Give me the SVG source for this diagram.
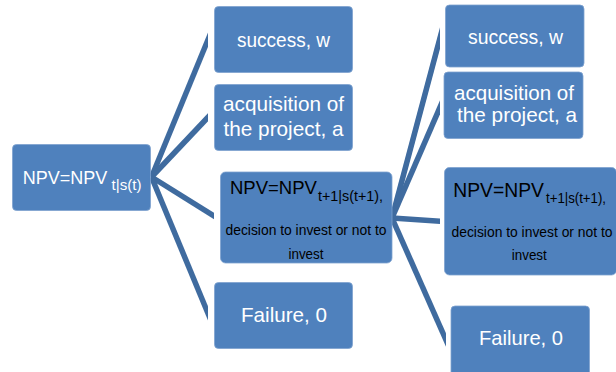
<svg xmlns="http://www.w3.org/2000/svg" width="616" height="372" viewBox="0 0 616 372">
<style>
.box{fill:#4f81bd;stroke:#7fa2cf;stroke-width:0.8}
.t{font-family:"Liberation Sans",Arial,sans-serif;font-size:21px;fill:#ffffff;text-anchor:middle}
.k{font-family:"Liberation Sans",Arial,sans-serif;fill:#000000}
.c{stroke:#3f6b9f;stroke-width:5.5;stroke-linecap:butt;fill:none}
</style>
<defs>
<clipPath id="cl"><path d="M0,0 H208 V200 H214 V240 H208 V372 H0 Z"/></clipPath>
<clipPath id="cr"><path d="M300,0 H440 V300 H446 V372 H300 Z"/></clipPath>
</defs>
<rect width="616" height="372" fill="#ffffff"/>
<g id="connectors">
<g clip-path="url(#cl)">
<line class="c" x1="151.5" y1="177" x2="212" y2="30"/>
<line class="c" x1="151.5" y1="177" x2="212" y2="113"/>
<line class="c" x1="151.5" y1="177" x2="218" y2="218.5"/>
<line class="c" x1="151.5" y1="177" x2="212" y2="323"/>
</g>
<g clip-path="url(#cr)">
<line class="c" x1="392" y1="218" x2="444" y2="23"/>
<line class="c" x1="392" y1="218" x2="444" y2="98"/>
<line class="c" x1="392" y1="218" x2="444" y2="221.5"/>
<line class="c" x1="392" y1="218" x2="450" y2="349"/>
</g>
</g>
<g id="root">
<rect class="box" x="12.5" y="144.5" width="138" height="66" rx="4"/>
<text class="t" x="22.7" y="183.5" style="text-anchor:start;font-size:18px">NPV=NPV</text>
<text class="t" x="111.5" y="189.5" style="text-anchor:start;font-size:14px" textLength="30" lengthAdjust="spacingAndGlyphs">t|s(t)</text>
</g>
<g id="success1">
<rect class="box" x="214.5" y="6.5" width="138" height="66" rx="4"/>
<text class="t" x="283.5" y="46.5" textLength="93" lengthAdjust="spacingAndGlyphs">success, w</text>
</g>
<g id="acquisition1">
<rect class="box" x="214.5" y="84.5" width="138" height="66" rx="4"/>
<text class="t" x="283.5" y="111" textLength="121" lengthAdjust="spacingAndGlyphs">acquisition of</text>
<text class="t" x="283.5" y="136" textLength="120" lengthAdjust="spacingAndGlyphs">the project, a</text>
</g>
<g id="npv1">
<rect class="box" x="220.5" y="172" width="171.5" height="91" rx="5"/>
<text class="k" x="230" y="193.5" style="font-size:18.5px">NPV=NPV</text>
<text class="k" x="318" y="201" style="font-size:14px" textLength="65" lengthAdjust="spacingAndGlyphs">t+1|s(t+1),</text>
<text class="k" x="306" y="235" style="font-size:14px;text-anchor:middle" textLength="161" lengthAdjust="spacingAndGlyphs">decision to invest or not to</text>
<text class="k" x="306" y="258.5" style="font-size:14px;text-anchor:middle" textLength="35" lengthAdjust="spacingAndGlyphs">invest</text>
</g>
<g id="failure1">
<rect class="box" x="214.5" y="282.5" width="138" height="66" rx="4"/>
<text class="t" x="284" y="321.5" textLength="86" lengthAdjust="spacingAndGlyphs">Failure, 0</text>
</g>
<g id="success2">
<rect class="box" x="445.5" y="5" width="138.5" height="62" rx="4"/>
<text class="t" x="515.5" y="43.5" textLength="95" lengthAdjust="spacingAndGlyphs">success, w</text>
</g>
<g id="acquisition2">
<rect class="box" x="444" y="72" width="139" height="66.5" rx="4"/>
<text class="t" x="514" y="100" textLength="120" lengthAdjust="spacingAndGlyphs">acquisition of</text>
<text class="t" x="517" y="122" textLength="120" lengthAdjust="spacingAndGlyphs">the project, a</text>
</g>
<g id="npv2">
<rect class="box" x="444.5" y="167.5" width="172" height="107.5" rx="5"/>
<text class="k" x="453.3" y="196.7" style="font-size:19.3px">NPV=NPV</text>
<text class="k" x="546" y="203" style="font-size:14px" textLength="60" lengthAdjust="spacingAndGlyphs">t+1|s(t+1),</text>
<text class="k" x="532" y="236.7" style="font-size:14px;text-anchor:middle" textLength="161" lengthAdjust="spacingAndGlyphs">decision to invest or not to</text>
<text class="k" x="529.3" y="260" style="font-size:14px;text-anchor:middle" textLength="35" lengthAdjust="spacingAndGlyphs">invest</text>
</g>
<g id="failure2">
<rect class="box" x="451" y="306" width="138.5" height="72" rx="4"/>
<text class="t" x="521" y="345" textLength="84" lengthAdjust="spacingAndGlyphs">Failure, 0</text>
</g>
</svg>
